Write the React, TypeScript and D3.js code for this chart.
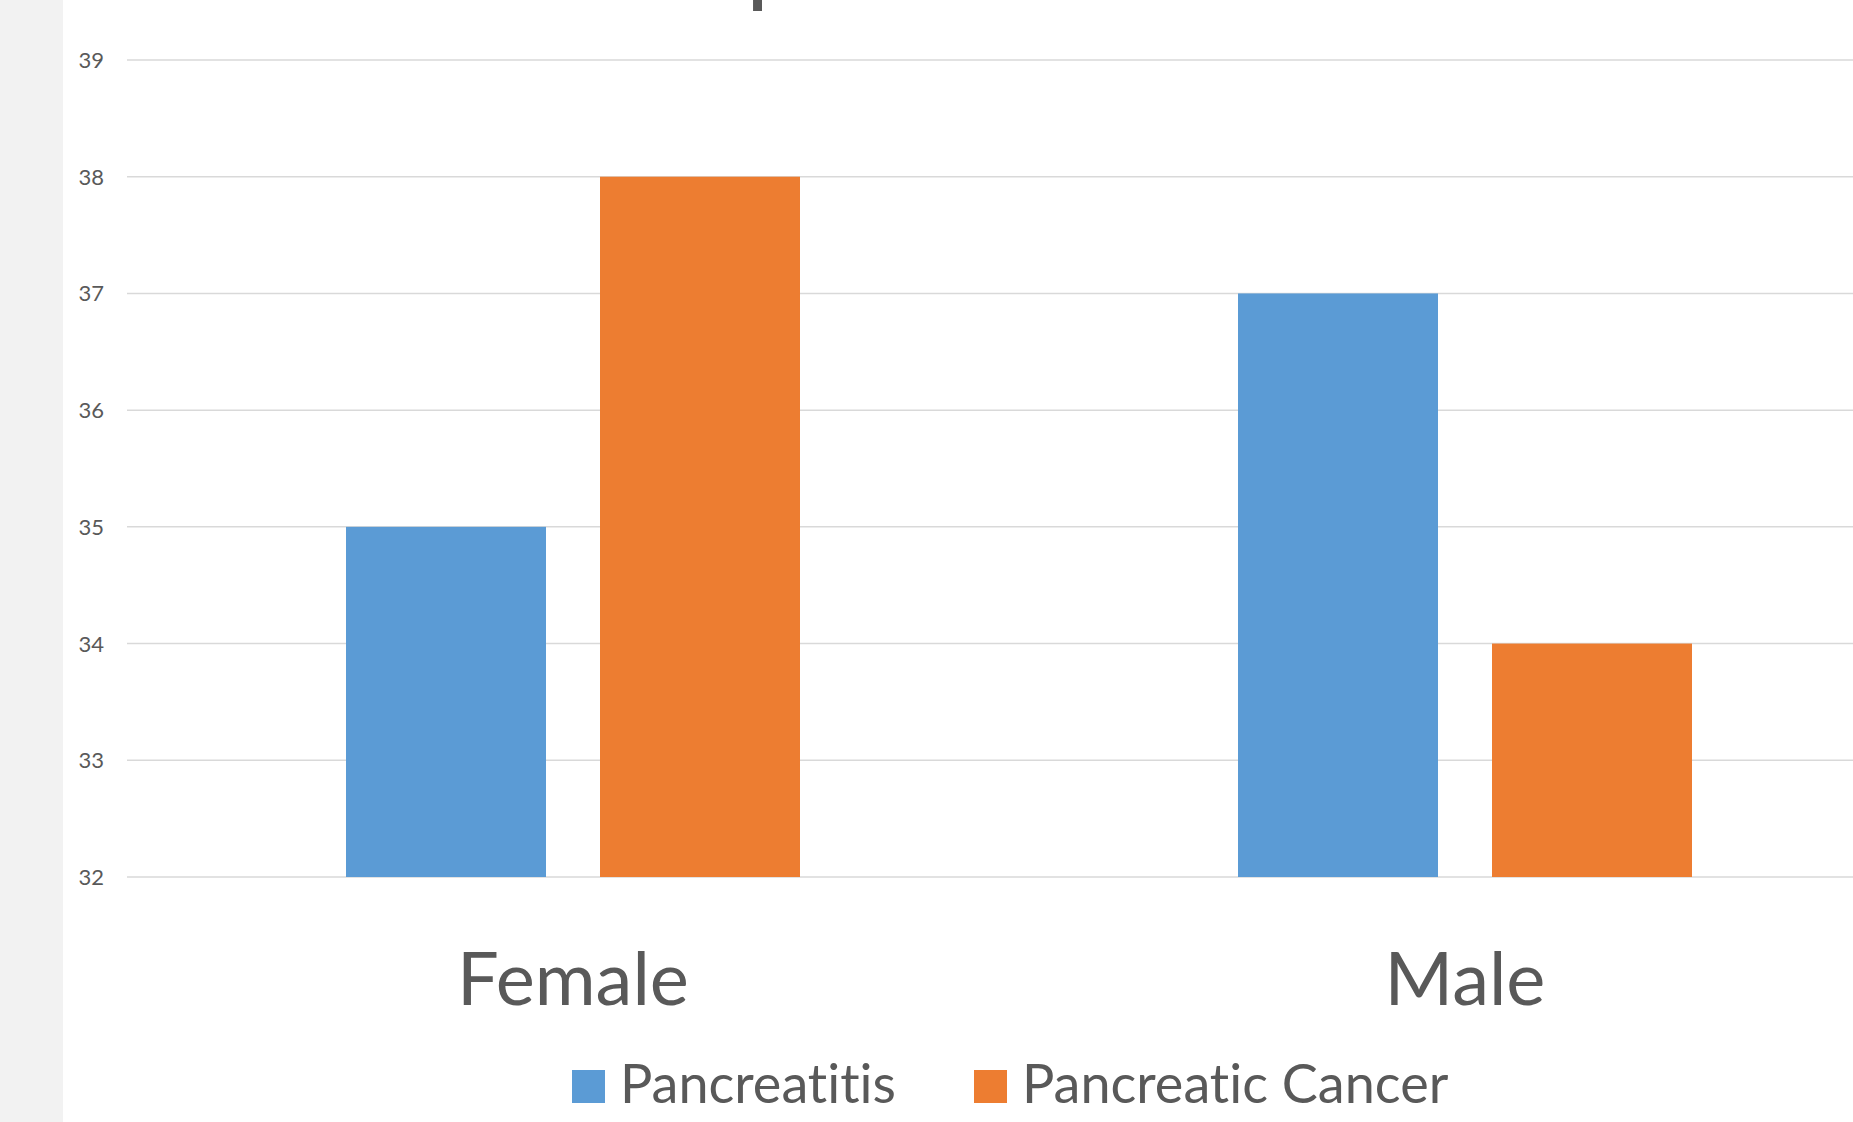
import React, { useEffect, useRef } from "react";
import * as d3 from "d3";

const categories = ["Female", "Male"];
const seriesNames = ["Pancreatitis", "Pancreatic Cancer"];
const pancreatitis = [35, 37];
const pancreaticCancer = [38, 34];
const yTicks = [32, 33, 34, 35, 36, 37, 38, 39];
const colors = ["#5B9BD5", "#ED7D31"];

const W = 1853;
const H = 1122;

export default function App() {
  const ref = useRef<SVGSVGElement>(null);

  useEffect(() => {
    const svg = d3.select(ref.current);
    svg.selectAll("*").remove();
    const font = "Lato, 'Open Sans', sans-serif";
    const textColor = "#595959";

    svg.append("rect").attr("x", 0).attr("y", 0).attr("width", W).attr("height", H).attr("fill", "#ffffff");
    svg.append("rect").attr("x", 0).attr("y", 0).attr("width", 63).attr("height", H).attr("fill", "#f2f2f2");

    // partially visible title glyph (cut off at top)
    svg.append("text")
      .attr("x", 746)
      .attr("y", -6)
      .attr("font-family", font)
      .attr("font-size", 100)
      .attr("fill", textColor)
      .text("p");

    const plotLeft = 127;
    const y = d3.scaleLinear().domain([32, 39]).range([877, 60]);
    const x0 = d3.scaleBand<string>().domain(categories).range([plotLeft, 1911]).paddingInner(0).paddingOuter(0);

    // gridlines
    svg.append("g")
      .selectAll("line")
      .data(yTicks)
      .join("line")
      .attr("x1", plotLeft)
      .attr("x2", W)
      .attr("y1", (d) => y(d))
      .attr("y2", (d) => y(d))
      .attr("stroke", "#d9d9d9")
      .attr("stroke-width", 1.5);

    // y tick labels
    svg.append("g")
      .selectAll("text")
      .data(yTicks)
      .join("text")
      .attr("x", 104)
      .attr("y", (d) => y(d) + 8)
      .attr("text-anchor", "end")
      .attr("font-family", font)
      .attr("font-size", 22)
      .attr("fill", textColor)
      .text((d) => String(d));

    const groupWidth = 454;
    const seriesData = [pancreatitis, pancreaticCancer];

    categories.forEach((cat, ci) => {
      const center = (x0(cat) as number) + x0.bandwidth() / 2;
      const x1 = d3.scaleBand<string>()
        .domain(seriesNames)
        .range([center - groupWidth / 2, center + groupWidth / 2])
        .paddingInner(0.2126)
        .paddingOuter(0);
      seriesNames.forEach((s, si) => {
        const v = seriesData[si][ci];
        svg.append("rect")
          .attr("x", x1(s) as number)
          .attr("y", y(v))
          .attr("width", x1.bandwidth())
          .attr("height", y(32) - y(v))
          .attr("fill", colors[si]);
      });
      svg.append("text")
        .attr("x", center)
        .attr("y", 1005)
        .attr("text-anchor", "middle")
        .attr("font-family", font)
        .attr("font-size", 74)
        .attr("fill", textColor)
        .text(cat);
    });

    // legend
    const legendX = [572, 974];
    seriesNames.forEach((s, i) => {
      svg.append("rect")
        .attr("x", legendX[i])
        .attr("y", 1070)
        .attr("width", 33)
        .attr("height", 33)
        .attr("fill", colors[i]);
      svg.append("text")
        .attr("x", legendX[i] + 48)
        .attr("y", 1103)
        .attr("font-family", font)
        .attr("font-size", 54)
        .attr("fill", textColor)
        .style("font-variant-ligatures", "none")
        .style("font-feature-settings", "'liga' 0")
        .text(s);
    });
  }, []);

  return (
    <svg
      ref={ref}
      width={W}
      height={H}
      style={{ position: "absolute", left: 0, top: 0, display: "block" }}
    />
  );
}
